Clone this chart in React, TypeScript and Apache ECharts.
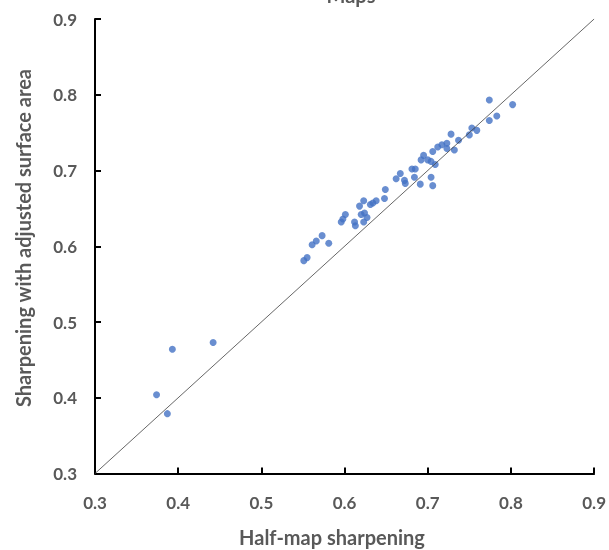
import React, { useEffect, useRef } from "react";
import * as echarts from "echarts";

const xTicks = [0.3, 0.4, 0.5, 0.6, 0.7, 0.8, 0.9];
const halfMap = [
  0.374, 0.387, 0.393, 0.442,
  0.551, 0.555, 0.561, 0.566, 0.573, 0.581, 0.596, 0.598, 0.601, 0.612, 0.613, 0.62, 0.624, 0.627, 0.623, 0.618, 0.623, 0.631, 0.634, 0.638, 0.648, 0.649,
  0.662, 0.667, 0.672, 0.673, 0.681, 0.685, 0.684, 0.691, 0.704, 0.706,
  0.692, 0.695, 0.7, 0.704, 0.709, 0.706, 0.712, 0.717, 0.723, 0.723, 0.728, 0.732, 0.737, 0.75, 0.753, 0.759, 0.774, 0.783, 0.774, 0.802,
];
const adjusted = [
  0.404, 0.379, 0.464, 0.473,
  0.581, 0.585, 0.602, 0.607, 0.614, 0.604, 0.632, 0.636, 0.642, 0.632, 0.627, 0.642, 0.644, 0.638, 0.632, 0.653, 0.66, 0.655, 0.657, 0.66, 0.663, 0.675,
  0.689, 0.696, 0.687, 0.683, 0.702, 0.702, 0.691, 0.682, 0.691, 0.68,
  0.714, 0.72, 0.714, 0.712, 0.708, 0.725, 0.731, 0.734, 0.736, 0.729, 0.748, 0.727, 0.74, 0.747, 0.756, 0.753, 0.766, 0.772, 0.793, 0.787,
];
const identityLine = [0.3, 0.9];

const TEXT = "#595959";
const FONT = "Lato, 'Open Sans', sans-serif";

export default function App() {
  const ref = useRef<HTMLDivElement>(null);
  useEffect(() => {
    if (!ref.current) return;
    const chart = echarts.init(ref.current, null, { renderer: "svg" });
    const points = halfMap.map((x, i) => [x, adjusted[i]]);
    chart.setOption({
      animation: false,
      grid: { left: 95, right: 14, top: 19, bottom: 76.5 },
      graphic: [
        {
          type: "text",
          x: 351,
          y: -5,
          style: {
            text: "Maps",
            fontSize: 20,
            fontWeight: "bold",
            fill: TEXT,
            fontFamily: FONT,
            align: "center",
            verticalAlign: "middle",
          },
        },
        {
          type: "text",
          x: 332,
          y: 537,
          style: {
            text: "Half-map sharpening",
            fontSize: 20,
            fontWeight: "bold",
            fill: TEXT,
            fontFamily: FONT,
            align: "center",
            verticalAlign: "middle",
          },
        },
        {
          type: "text",
          x: 23,
          y: 238,
          rotation: Math.PI / 2,
          style: {
            text: "Sharpening with adjusted surface area",
            fontSize: 20,
            fontWeight: "bold",
            fill: TEXT,
            fontFamily: FONT,
            align: "center",
            verticalAlign: "middle",
          },
        },
      ],
      xAxis: {
        type: "value",
        min: xTicks[0],
        max: xTicks[xTicks.length - 1],
        interval: 0.1,
        splitLine: { show: false },
        axisLine: { show: true, onZero: false, lineStyle: { color: "#000", width: 2 } },
        axisTick: { show: true, inside: true, length: 6, lineStyle: { color: "#000", width: 2 } },
        axisLabel: {
          margin: 20,
          color: TEXT,
          fontSize: 17,
          fontWeight: "bold",
          fontFamily: FONT,
          formatter: (v: number) => v.toFixed(1),
        },
      },
      yAxis: {
        type: "value",
        min: xTicks[0],
        max: xTicks[xTicks.length - 1],
        interval: 0.1,
        splitLine: { show: false },
        axisLine: { show: true, onZero: false, lineStyle: { color: "#000", width: 2 } },
        axisTick: { show: true, inside: true, length: 6, lineStyle: { color: "#000", width: 2 } },
        axisLabel: {
          margin: 18,
          color: TEXT,
          fontSize: 17,
          fontWeight: "bold",
          fontFamily: FONT,
          formatter: (v: number) => v.toFixed(1),
        },
      },
      series: [
        {
          type: "line",
          data: identityLine.map((v) => [v, v]),
          symbol: "none",
          lineStyle: { color: "#404040", width: 0.8 },
          silent: true,
        },
        {
          type: "scatter",
          data: points,
          symbolSize: 7,
          itemStyle: { color: "#4472C4" },
        },
      ],
    });
    return () => chart.dispose();
  }, []);
  return <div ref={ref} style={{ position: "fixed", left: 0, top: 0, width: 609, height: 550 }} />;
}
